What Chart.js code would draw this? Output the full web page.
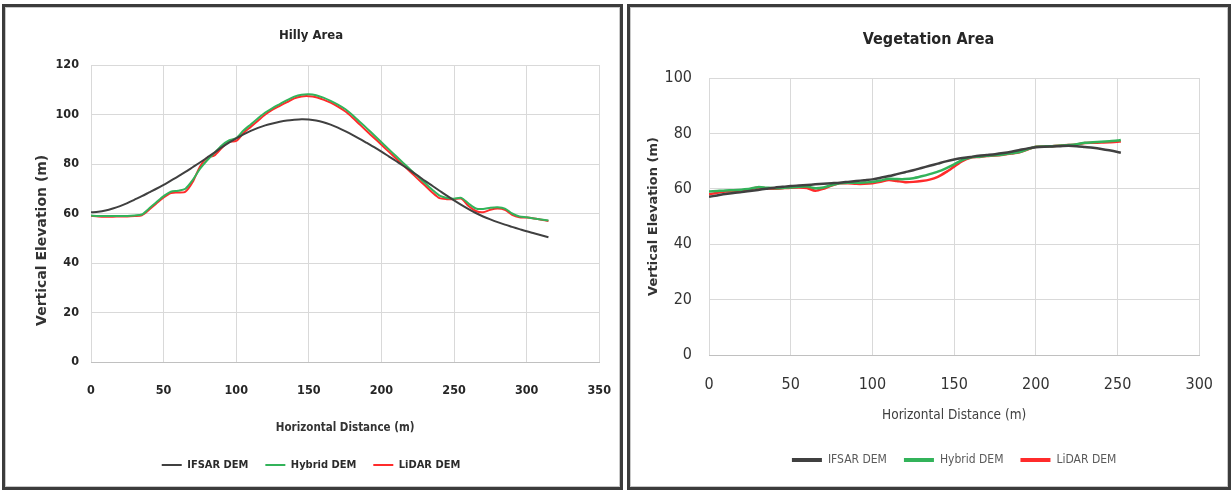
<!DOCTYPE html>
<html>
<head>
<meta charset="utf-8">
<script src="https://cdn.jsdelivr.net/npm/chart.js@4.4.1/dist/chart.umd.min.js"></script>
<style>
body { margin: 0; background: #fff; width: 1231px; height: 490px; position: relative; overflow: hidden; }
.panel { position: absolute; top: 4px; height: 480px; border: 3px solid #3c3c3c; box-shadow: inset 0 0 0 1px #c8c8c8; }
canvas { position: absolute; top: 5px; }
</style>
</head>
<body>
<div class="panel" style="left:2px;width:615px"></div>
<div class="panel" style="left:627px;width:598px"></div>
<canvas id="hilly" width="612" height="482" style="left:5px"></canvas>
<canvas id="veg" width="597" height="482" style="left:630px"></canvas>
<script>
// Hilly area profile (horizontal distance in m, elevation in m)
const hillyDist = [0, 5, 10, 15, 20, 25, 30, 35, 40, 45, 50, 55, 60, 65, 70, 75, 80, 85, 90, 95,
  100, 105, 110, 115, 120, 125, 130, 135, 140, 145, 150, 155, 160, 165, 170, 175, 180, 185, 190, 195,
  200, 205, 210, 215, 220, 225, 230, 235, 240, 245, 250, 255, 260, 265, 270, 275, 280, 285, 290, 295,
  300, 305, 310, 315];
const hillyIfsar = [60.5, 60.7, 61.2, 62.0, 63.0, 64.2, 65.6, 67.0, 68.5, 70.0, 71.6, 73.3, 75.0, 76.8, 78.7, 80.6, 82.6, 84.6, 86.7, 88.6,
  90.4, 92.0, 93.4, 94.6, 95.6, 96.4, 97.1, 97.6, 97.9, 98.1, 98.0, 97.6, 96.9, 95.9, 94.7, 93.3, 91.8, 90.2, 88.5, 86.8,
  85.0, 83.1, 81.2, 79.3, 77.3, 75.3, 73.2, 71.2, 69.2, 67.2, 65.3, 63.5, 61.8, 60.2, 58.8, 57.6, 56.5, 55.5, 54.6, 53.7,
  52.8, 52.0, 51.2, 50.4];
const hillyHybrid = [59.2, 59.0, 59.0, 59.0, 59.0, 59.0, 59.2, 59.6, 62.0, 64.5, 67.0, 68.8, 69.2, 70.0, 73.5, 78.0, 81.5, 84.5, 87.5, 89.5,
  90.5, 93.5, 96.0, 98.5, 100.8, 102.6, 104.2, 105.8, 107.2, 108.0, 108.2, 107.8, 106.8, 105.5, 104.0, 102.2, 99.8, 97.1, 94.4, 91.6,
  88.8, 86.0, 83.2, 80.4, 77.7, 75.0, 72.3, 69.6, 67.2, 66.3, 66.0, 66.3, 64.0, 62.0, 61.8, 62.3, 62.5, 62.0, 60.0, 58.8,
  58.5, 58.0, 57.6, 57.2];
const hillyLidar = [59.0, 58.8, 58.7, 58.7, 58.8, 58.8, 59.0, 59.3, 61.5, 64.0, 66.5, 68.3, 68.5, 68.8, 72.7, 78.9, 82.5, 83.5, 86.5, 89.0,
  89.3, 92.5, 95.0, 97.5, 100.0, 102.0, 103.5, 105.0, 106.5, 107.3, 107.4, 107.0, 106.0, 104.8, 103.2, 101.3, 98.8, 96.0, 93.2, 90.5,
  87.8, 85.0, 82.2, 79.5, 76.8, 74.0, 71.3, 68.5, 66.2, 65.8, 65.8, 66.0, 63.0, 61.0, 60.5, 61.5, 62.0, 61.5, 59.5, 58.5,
  58.4, 58.0, 57.5, 57.0];

// Vegetation area profile
const vegDist = [0, 5, 10, 15, 20, 25, 30, 35, 40, 45, 50, 55, 60, 65, 70, 75, 80, 85, 90, 95,
  100, 105, 110, 115, 120, 125, 130, 135, 140, 145, 150, 155, 160, 165, 170, 175, 180, 185, 190, 195,
  200, 205, 210, 215, 220, 225, 230, 235, 240, 245, 250, 252];
const vegIfsar = [57.1, 57.6, 58.1, 58.5, 58.8, 59.2, 59.6, 60.0, 60.4, 60.7, 61.0, 61.2, 61.4, 61.6, 61.8, 62.0, 62.2, 62.5, 62.8, 63.1,
  63.4, 64.0, 64.6, 65.3, 66.0, 66.7, 67.5, 68.3, 69.1, 69.9, 70.6, 71.1, 71.5, 71.9, 72.2, 72.5, 72.9, 73.4, 74.0, 74.6,
  75.0, 75.2, 75.3, 75.4, 75.5, 75.4, 75.1, 74.8, 74.4, 73.9, 73.3, 73.0];
const vegHybrid = [59.0, 59.2, 59.4, 59.5, 59.7, 60.0, 60.6, 60.4, 60.2, 60.3, 60.5, 60.7, 60.8, 60.2, 60.5, 61.3, 62.0, 62.2, 62.2, 62.3,
  62.5, 63.0, 63.6, 63.5, 63.5, 63.8, 64.5, 65.3, 66.2, 67.4, 68.8, 70.4, 71.3, 71.6, 71.9, 72.1, 72.4, 72.8, 73.3, 74.3,
  75.2, 75.3, 75.4, 75.6, 75.8, 76.1, 76.6, 76.8, 77.0, 77.2, 77.4, 77.6];
const vegLidar = [58.0, 58.6, 59.0, 59.2, 59.4, 59.8, 60.5, 60.2, 60.0, 60.2, 60.4, 60.5, 60.3, 59.3, 60.0, 61.2, 62.0, 62.0, 61.8, 61.8,
  62.0, 62.5, 63.2, 62.8, 62.4, 62.5, 62.8, 63.3, 64.3, 66.0, 68.0, 70.0, 71.2, 71.5, 71.8, 72.0, 72.3, 72.7, 73.2, 74.2,
  75.2, 75.3, 75.4, 75.6, 75.8, 76.0, 76.5, 76.6, 76.7, 76.8, 77.0, 77.1];

const seriesNames = ['IFSAR DEM', 'Hybrid DEM', 'LiDAR DEM'];
const seriesColors = ['#404040', '#33b35a', '#ff2b2b'];

const NARROW = "'Liberation Sans Narrow', 'DejaVu Sans Condensed', 'Liberation Sans', sans-serif";
const WIDE = "'DejaVu Sans', sans-serif";

function toPoints(xs, ys) {
    return xs.map((x, i) => ({ x: x, y: ys[i] }));
}

function buildDatasets(xs, lists, width) {
    return lists.map((ys, i) => ({
        label: seriesNames[i],
        data: toPoints(xs, ys),
        borderColor: seriesColors[i],
        backgroundColor: seriesColors[i],
        borderWidth: width,
        pointRadius: 0,
        tension: 0.25
    }));
}

function flatLegend(chart) {
    return Chart.defaults.plugins.legend.labels.generateLabels(chart).map(l => {
        l.lineWidth = 0;
        return l;
    });
}

// Hilly area
new Chart(document.getElementById('hilly'), {
    type: 'line',
    data: { datasets: buildDatasets(hillyDist, [hillyIfsar, hillyHybrid, hillyLidar], 2) },
    options: {
        responsive: false,
        animation: false,
        layout: { padding: { top: 0, left: 0, right: 0, bottom: 6.5 } },
        plugins: {
            title: {
                display: true, text: 'Hilly Area', color: '#262626',
                font: { family: NARROW, size: 13, weight: 'bold' },
                padding: { top: 22.8, bottom: 21.6 }
            },
            legend: {
                position: 'bottom',
                labels: {
                    boxWidth: 20, boxHeight: 2, padding: 17, color: '#2b2b2b',
                    font: { family: NARROW, size: 11, weight: 'bold' },
                    generateLabels: flatLegend
                }
            },
            tooltip: { enabled: false }
        },
        scales: {
            x: {
                type: 'linear', min: 0, max: 350,
                ticks: { stepSize: 50, padding: 6, color: '#262626', font: { family: NARROW, size: 12.5, weight: 'bold' } },
                grid: { color: '#d9d9d9', tickLength: 15.5, tickColor: 'rgba(0,0,0,0)' },
                border: { color: '#c0c0c0' },
                title: {
                    display: true, text: 'Horizontal Distance (m)', color: '#333',
                    font: { family: NARROW, size: 11.5, weight: 'bold' },
                    padding: { top: 0, bottom: 7.6 }
                },
                afterFit: s => { s.height = 80.5; }
            },
            y: {
                min: 0, max: 120,
                ticks: { stepSize: 20, padding: 12, color: '#262626', font: { family: NARROW, size: 12.5, weight: 'bold' } },
                grid: { color: '#d9d9d9', drawTicks: false },
                border: { display: false },
                title: {
                    display: true, text: 'Vertical Elevation (m)' + ' '.repeat(11), color: '#333',
                    font: { family: WIDE, size: 14, weight: 'bold' },
                    padding: { top: 29.1, bottom: 0 }
                },
                afterFit: s => { s.width = 86; }
            }
        }
    }
});

// Vegetation area
new Chart(document.getElementById('veg'), {
    type: 'line',
    data: { datasets: buildDatasets(vegDist, [vegIfsar, vegHybrid, vegLidar], 2.5) },
    options: {
        responsive: false,
        animation: false,
        layout: { padding: { top: 0, left: 0, right: 0, bottom: 11 } },
        plugins: {
            title: {
                display: true, text: 'Vegetation Area', color: '#262626',
                font: { family: NARROW, size: 16, weight: 'bold' },
                padding: { top: 25.4, bottom: 28.4 }
            },
            legend: {
                position: 'bottom',
                fullSize: false,
                labels: {
                    boxWidth: 30, boxHeight: 4, padding: 17, color: '#595959',
                    font: { family: NARROW, size: 12 },
                    generateLabels: flatLegend
                }
            },
            tooltip: { enabled: false }
        },
        scales: {
            x: {
                type: 'linear', min: 0, max: 300,
                ticks: { stepSize: 50, padding: 14, color: '#333', font: { family: NARROW, size: 16 } },
                grid: { color: '#d9d9d9', tickLength: 6.4, tickColor: 'rgba(0,0,0,0)' },
                border: { color: '#c0c0c0' },
                title: {
                    display: true, text: 'Horizontal Distance (m)', color: '#404040',
                    font: { family: NARROW, size: 13.5 },
                    padding: { top: 0, bottom: 13.9 }
                },
                afterFit: s => { s.height = 82; }
            },
            y: {
                min: 0, max: 100,
                ticks: { stepSize: 20, padding: 17, color: '#333', font: { family: NARROW, size: 16 } },
                grid: { color: '#d9d9d9', drawTicks: false },
                border: { display: false },
                title: {
                    display: true, text: 'Vertical Elevation (m)', color: '#333',
                    font: { family: WIDE, size: 13, weight: 'bold' },
                    padding: { top: 16.2, bottom: 0 }
                },
                afterFit: s => { s.width = 79; }
            }
        }
    }
});
</script>
</body>
</html>
